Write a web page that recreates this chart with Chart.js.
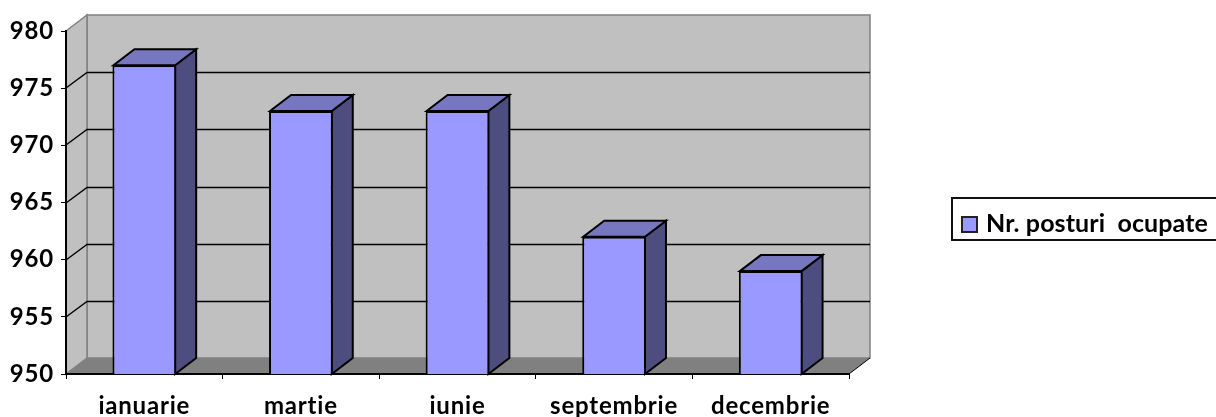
<!DOCTYPE html>
<html>
<head>
<meta charset="utf-8">
<title>Nr. posturi ocupate</title>
<script src="https://cdn.jsdelivr.net/npm/chart.js@4"></script>
<style>
    html, body { margin: 0; padding: 0; background: #fff; }
    #wrap { position: relative; width: 1216px; height: 417px; overflow: hidden; }
    #legend {
        position: absolute; left: 951px; top: 197px; width: 270px; height: 40px;
        border: 2px solid #111; box-sizing: content-box;
        font: bold 25px Lato, sans-serif; color: #000; line-height: 46px; white-space: pre;
        font-variant-ligatures: none; letter-spacing: 0.1px;
    }
    #legend i {
        display: inline-block; width: 17px; height: 17px; margin: 0 8px 0 8px;
        background: #9999ff; border: 2px solid #222; vertical-align: -1px; box-sizing: border-box;
    }
</style>
</head>
<body>
<div id="wrap">
    <canvas id="chart" width="1216" height="417"></canvas>
    <div id="legend"></div>
</div>
<script>
const categories = ['ianuarie', 'martie', 'iunie', 'septembrie', 'decembrie'];
const posturiOcupate = [977, 973, 973, 962, 959];
const seriesName = 'Nr. posturi  ocupate';
const yMin = 950;
const yMax = 980;
const yStep = 5;

// 3D look of the old Excel chart
const depthX = 21;
const depthY = 16;
const FRONT = '#9999ff';
const TOP = '#7777bf';
const SIDE = '#4d4d80';
const WALL = '#c0c0c0';
const FLOOR = '#808080';

const poly = (ctx, pts, fill, stroke, width) => {
    ctx.beginPath();
    pts.forEach((p, i) => i ? ctx.lineTo(p[0], p[1]) : ctx.moveTo(p[0], p[1]));
    ctx.closePath();
    if (fill) { ctx.fillStyle = fill; ctx.fill(); }
    if (stroke) { ctx.strokeStyle = stroke; ctx.lineWidth = width; ctx.stroke(); }
};

const wallsPlugin = {
    id: 'walls',
    beforeDraw(chart) {
        const { ctx, chartArea: a, scales } = chart;
        // spacing also turns off the Lato "ti" ligature in the axis labels
        ctx.letterSpacing = '0.8px';
        ctx.save();
        // back wall, side wall, floor
        poly(ctx, [[a.left + depthX, a.top - depthY], [a.right + depthX, a.top - depthY], [a.right + depthX, a.bottom - depthY], [a.left + depthX, a.bottom - depthY]], WALL, '#808080', 1.5);
        poly(ctx, [[a.left, a.top], [a.left + depthX, a.top - depthY], [a.left + depthX, a.bottom - depthY], [a.left, a.bottom]], WALL, '#808080', 1.5);
        poly(ctx, [[a.left, a.bottom], [a.right, a.bottom], [a.right + depthX, a.bottom - depthY], [a.left + depthX, a.bottom - depthY]], FLOOR);

        // gridlines run over the side wall and along the back
        ctx.strokeStyle = '#000';
        ctx.lineWidth = 1.4;
        scales.y.ticks.forEach(t => {
            if (t.value === yMin || t.value === yMax) return;
            const y = Math.round(scales.y.getPixelForValue(t.value));
            ctx.beginPath();
            ctx.moveTo(a.left, y);
            ctx.lineTo(a.left + depthX, y - depthY + 0.5);
            ctx.lineTo(a.right + depthX, y - depthY + 0.5);
            ctx.stroke();
        });
        // little diagonal at the floor corner
        ctx.lineWidth = 1;
        ctx.beginPath();
        ctx.moveTo(a.right, a.bottom);
        ctx.lineTo(a.right + depthX, a.bottom - depthY);
        ctx.stroke();
        ctx.restore();
    },
    beforeDatasetsDraw(chart) {
        const { ctx, chartArea: a } = chart;
        ctx.save();
        ctx.lineJoin = 'miter';
        chart.getDatasetMeta(0).data.forEach(bar => {
            const { x, y, width } = bar.getProps(['x', 'y', 'width'], true);
            const l = x - width / 2;
            const r = x + width / 2 - 1;
            poly(ctx, [[r, y], [r + depthX, y - depthY], [r + depthX, a.bottom - depthY], [r, a.bottom]], SIDE, '#000', 2);
            poly(ctx, [[l + 1, y], [l + 1 + depthX, y - depthY], [r + depthX, y - depthY], [r, y]], TOP, '#000', 2);
        });
        ctx.restore();
    }
};

document.addEventListener('DOMContentLoaded', () => {
    document.getElementById('legend').innerHTML = '<i></i>' + seriesName;

    new Chart(document.getElementById('chart'), {
        type: 'bar',
        data: {
            labels: categories,
            datasets: [{
                label: seriesName,
                data: posturiOcupate,
                backgroundColor: FRONT,
                borderColor: '#000',
                borderWidth: 2,
                borderSkipped: false,
                barPercentage: 0.407,
                categoryPercentage: 1
            }]
        },
        options: {
            responsive: false,
            animation: false,
            layout: { padding: { top: 31, right: 367, left: 0, bottom: 0 } },
            plugins: { legend: { display: false }, tooltip: { enabled: false } },
            scales: {
                x: {
                    grid: { drawOnChartArea: false, drawTicks: true, tickLength: 5, color: '#000', offset: true },
                    border: { color: '#000', width: 2 },
                    ticks: { color: '#000', font: { family: 'Lato', weight: 'bold', size: 24 }, padding: 13, maxRotation: 0, autoSkip: false },
                    afterFit: s => { s.height = 43; }
                },
                y: {
                    min: yMin,
                    max: yMax,
                    grid: { drawOnChartArea: false, drawTicks: true, tickLength: 5, color: '#000' },
                    border: { color: '#000', width: 2 },
                    ticks: { stepSize: yStep, color: '#000', font: { family: 'Lato', weight: 'bold', size: 24 }, padding: 7 },
                    afterFit: s => { s.width = 66; }
                }
            }
        },
        plugins: [wallsPlugin]
    });
});
</script>
</body>
</html>
